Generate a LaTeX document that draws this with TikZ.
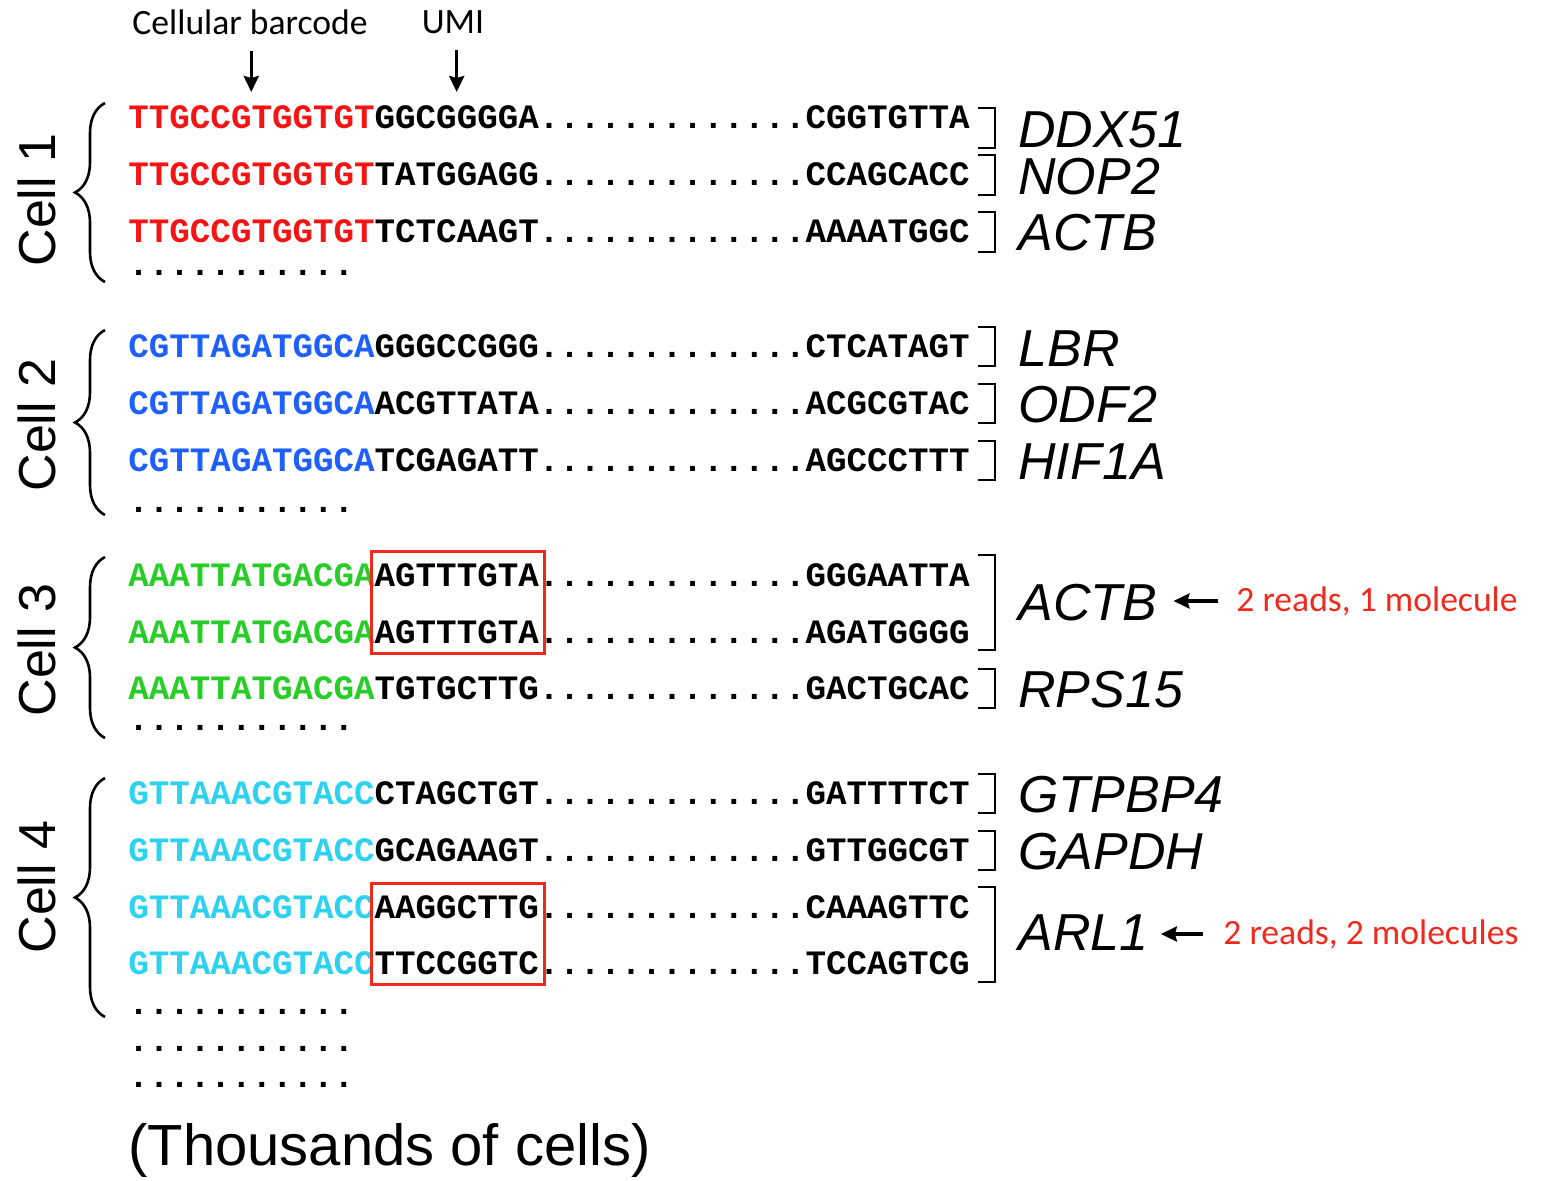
\documentclass[tikz,border=0pt]{standalone}
\usepackage{fontspec}
\setmainfont{Liberation Sans}
\setmonofont{Liberation Mono}
\newfontfamily\calfont{Carlito}
\usetikzlibrary{calc,arrows.meta,decorations.pathreplacing}

\definecolor{bcred}{RGB}{245,20,20}
\definecolor{bcblue}{RGB}{30,95,255}
\definecolor{bcgreen}{RGB}{40,205,40}
\definecolor{bccyan}{RGB}{45,210,240}
\definecolor{boxred}{RGB}{238,42,30}

\begin{document}
\begin{tikzpicture}[x=0.5pt,y=-0.5pt,
    seq/.style={anchor=west, inner sep=0pt, font=\fontsize{17.1}{20}\ttfamily\bfseries},
    gene/.style={anchor=west, inner sep=0pt, font=\fontsize{26}{30}\itshape},
    cell/.style={rotate=90, inner sep=0pt, font=\fontsize{26}{30}\selectfont},
    lab/.style={inner sep=0pt, font=\fontsize{17.8}{21}\calfont},
    note/.style={lab, anchor=west, text=boxred},
    gbr/.style={line width=1.2pt},
    cbrace/.style={decorate, decoration={brace, amplitude=15pt}, line width=1.3pt},
    umibox/.style={draw=boxred, line width=1.5pt},
    arr/.style={-{Stealth[length=8pt,width=7.5pt,inset=1pt]}, line width=1.6pt}]
    % Fix the page to the reference size (pixels)
    \useasboundingbox (0,0) rectangle (1542,1180);

    % Column headers
    \node[lab] (bclab) at (250,22) {Cellular barcode};
    \node[lab] (umilab) at (453,22) {UMI};

    % Cell 1 reads
    \node[seq] (r11) at (128,117) {\textcolor{bcred}{TTGCCGTGGTGT}GGCGGGGA.............CGGTGTTA};
    \node[seq] (r12) at (128,174) {\textcolor{bcred}{TTGCCGTGGTGT}TATGGAGG.............CCAGCACC};
    \node[seq] (r13) at (128,231) {\textcolor{bcred}{TTGCCGTGGTGT}TCTCAAGT.............AAAATGGC};
    \node[seq] (d1) at (128,273) {...........};

    % Cell 2 reads
    \node[seq] (r21) at (128,346) {\textcolor{bcblue}{CGTTAGATGGCA}GGGCCGGG.............CTCATAGT};
    \node[seq] (r22) at (128,403) {\textcolor{bcblue}{CGTTAGATGGCA}ACGTTATA.............ACGCGTAC};
    \node[seq] (r23) at (128,460) {\textcolor{bcblue}{CGTTAGATGGCA}TCGAGATT.............AGCCCTTT};
    \node[seq] (d2) at (128,510) {...........};

    % Cell 3 reads
    \node[seq] (r31) at (128,575) {\textcolor{bcgreen}{AAATTATGACGA}AGTTTGTA.............GGGAATTA};
    \node[seq] (r32) at (128,632) {\textcolor{bcgreen}{AAATTATGACGA}AGTTTGTA.............AGATGGGG};
    \node[seq] (r33) at (128,688) {\textcolor{bcgreen}{AAATTATGACGA}TGTGCTTG.............GACTGCAC};
    \node[seq] (d3) at (128,728) {...........};

    % Cell 4 reads
    \node[seq] (r41) at (128,793) {\textcolor{bccyan}{GTTAAACGTACC}CTAGCTGT.............GATTTTCT};
    \node[seq] (r42) at (128,850) {\textcolor{bccyan}{GTTAAACGTACC}GCAGAAGT.............GTTGGCGT};
    \node[seq] (r43) at (128,907) {\textcolor{bccyan}{GTTAAACGTACC}AAGGCTTG.............CAAAGTTC};
    \node[seq] (r44) at (128,963) {\textcolor{bccyan}{GTTAAACGTACC}TTCCGGTC.............TCCAGTCG};
    \node[seq] (d4) at (128,1012) {...........};
    \node[seq] (d5) at (128,1049) {...........};
    \node[seq] (d6) at (128,1085) {...........};

    \node[anchor=west, inner sep=0pt, font=\fontsize{29}{34}\selectfont] (more) at (128,1150) {(Thousands of cells)};

    % Arrows onto barcode and UMI of the first read
    \coordinate (bctip) at ($(r11.north west)!6/41!(r11.north east)+(0,-13)$);
    \coordinate (umitip) at ($(r11.north west)!16/41!(r11.north east)+(0,-13)$);
    \draw[arr, shorten <=8pt] (bclab.south -| bctip) -- (bctip);
    \draw[arr, shorten <=8pt] (umilab.south -| umitip) -- (umitip);

    % Curly braces and cell labels
    \draw[cbrace] (105,282) -- (105,103);
    \draw[cbrace] (105,515) -- (105,330);
    \draw[cbrace] (105,738) -- (105,557);
    \draw[cbrace] (105,1017) -- (105,778);
    \node[cell] (cell1) at (37,200) {Cell 1};
    \node[cell] (cell2) at (37,425) {Cell 2};
    \node[cell] (cell3) at (37,650) {Cell 3};
    \node[cell] (cell4) at (37,887) {Cell 4};

    % Gene brackets
    \draw[gbr] (978,108) -| (995,148) -- (978,148);
    \draw[gbr] (978,155) -| (995,195) -- (978,195);
    \draw[gbr] (978,212) -| (995,252) -- (978,252);
    \draw[gbr] (978,327) -| (995,366) -- (978,366);
    \draw[gbr] (978,384) -| (995,423) -- (978,423);
    \draw[gbr] (978,441) -| (995,480) -- (978,480);
    \draw[gbr] (978,555) -| (995,650) -- (978,650);
    \draw[gbr] (978,669) -| (995,708) -- (978,708);
    \draw[gbr] (978,774) -| (995,813) -- (978,813);
    \draw[gbr] (978,831) -| (995,870) -- (978,870);
    \draw[gbr] (978,887) -| (995,982) -- (978,982);

    % Gene names
    \node[gene] (g11) at (1018,130) {DDX51};
    \node[gene] (g12) at (1018,177) {NOP2};
    \node[gene] (g13) at (1018,233) {ACTB};
    \node[gene] (g21) at (1018,349) {LBR};
    \node[gene] (g22) at (1018,405) {ODF2};
    \node[gene] (g23) at (1018,462) {HIF1A};
    \node[gene] (g31) at (1018,603) {ACTB};
    \node[gene] (g33) at (1018,690) {RPS15};
    \node[gene] (g41) at (1018,795) {GTPBP4};
    \node[gene] (g42) at (1018,852) {GAPDH};
    \node[gene] (g43) at (1018,933) {ARL1};

    % Boxes round the UMIs of the read pairs
    \draw[umibox] ($(r31.north west)!12/41!(r31.north east)+(-3,-12)$) rectangle ($(r32.south west)!20/41!(r32.south east)+(6,9)$);
    \draw[umibox] ($(r43.north west)!12/41!(r43.north east)+(-3,-12)$) rectangle ($(r44.south west)!20/41!(r44.south east)+(6,9)$);

    % Read / molecule counts
    \node[note] (note1) at (1236,601) {2 reads, 1 molecule};
    \node[note] (note2) at (1223,934) {2 reads, 2 molecules};
    \draw[arr, shorten <=9pt, shorten >=8pt] (note1.west) -- (note1.west -| g31.east);
    \draw[arr, shorten <=10pt, shorten >=6pt] (note2.west) -- (note2.west -| g43.east);
\end{tikzpicture}
\end{document}
